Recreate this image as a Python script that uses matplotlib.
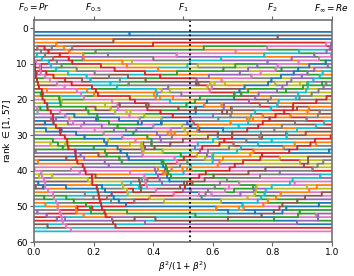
import numpy as np
import matplotlib
matplotlib.use("Agg")
import matplotlib.pyplot as plt

# precision / recall of the 57 ranked systems (colour = list position)
precision = [0.890, 0.878, 0.822, 0.836, 0.837, 0.850, 0.755, 0.862, 0.811, 0.701,
             0.880, 0.875, 0.702, 0.868, 0.584, 0.800, 0.550, 0.870, 0.623, 0.866,
             0.480, 0.771, 0.537, 0.853, 0.430, 0.660, 0.858, 0.442, 0.752, 0.355,
             0.665, 0.481, 0.785, 0.363, 0.679, 0.495, 0.711, 0.377, 0.568, 0.384,
             0.650, 0.416, 0.582, 0.373, 0.539, 0.431, 0.476, 0.401, 0.446, 0.345,
             0.434, 0.389, 0.404, 0.864, 0.379, 0.363, 0.478]
recall = [0.870, 0.806, 0.846, 0.866, 0.773, 0.879, 0.868, 0.715, 0.747, 0.865,
          0.891, 0.644, 0.802, 0.618, 0.869, 0.650, 0.866, 0.544, 0.773, 0.514,
          0.860, 0.571, 0.787, 0.453, 0.858, 0.610, 0.394, 0.792, 0.460, 0.843,
          0.515, 0.681, 0.360, 0.763, 0.429, 0.595, 0.361, 0.677, 0.468, 0.634,
          0.350, 0.566, 0.382, 0.573, 0.389, 0.479, 0.416, 0.473, 0.410, 0.440,
          0.386, 0.413, 0.380, 0.145, 0.369, 0.403, 0.125]

top_ticks = [0.0, 0.2, 0.5, 0.8, 1.0]
top_labels = [r"$F_0 = Pr$", r"$F_{0.5}$", r"$F_1$", r"$F_2$", r"$F_\infty = Re$"]
bottom_ticks = [0.0, 0.2, 0.4, 0.6, 0.8, 1.0]
y_ticks = [0, 10, 20, 30, 40, 50, 60]
marker_w = 0.523

n = len(precision)
w = np.linspace(0.0, 1.0, 1001)
P = np.array(precision)[:, None]
R = np.array(recall)[:, None]
F = 1.0 / ((1.0 - w) / P + w / R)
order = np.argsort(-F, axis=0, kind="stable")
ranks = np.empty_like(order)
ranks[order, np.arange(len(w))[None, :]] = np.arange(1, n + 1)[:, None]

fig = plt.figure(figsize=(3.54, 2.76), dpi=100)
ax = fig.add_axes([0.096, 0.123, 0.842, 0.804])

for i in range(n):
    ax.plot(w, ranks[i], drawstyle="steps-mid", lw=1.3, color=f"C{i % 10}")

ax.axvline(marker_w, color="black", ls=":", lw=1.3)

ax.set_xlim(0, 1)
ax.set_ylim(60, -2.3)
ax.set_xticks(bottom_ticks)
ax.set_xticklabels([f"{t:.1f}" for t in bottom_ticks])
ax.set_yticks(y_ticks)
ax.set_xlabel(r"$\beta^2/(1+\beta^2)$", fontsize=6.5, labelpad=2)
ax.set_ylabel(r"rank $\in [1, 57]$", fontsize=6.5, labelpad=2)
ax.tick_params(labelsize=6.5, length=3, width=0.8, color="0.4", pad=1.5)
for s in ax.spines.values():
    s.set_color("0.45")
    s.set_linewidth(1.2)

ax2 = ax.twiny()
ax2.set_xlim(0, 1)
ax2.set_xticks(top_ticks)
ax2.set_xticklabels(top_labels)
ax2.tick_params(labelsize=6.5, length=3, width=0.8, color="0.4", pad=1.5)
for s in ax2.spines.values():
    s.set_visible(False)

fig.savefig("out.png", dpi=100)
